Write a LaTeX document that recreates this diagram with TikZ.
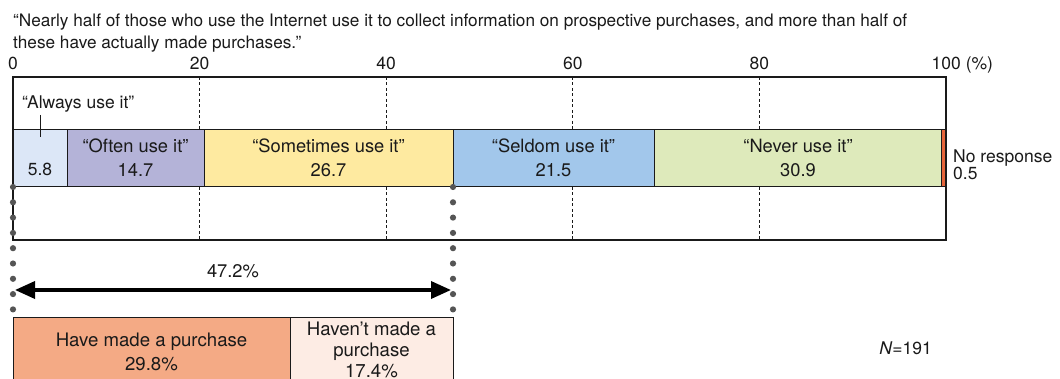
\documentclass[tikz,border=0pt]{standalone}
\usepackage{fontspec}
\setmainfont{TeX Gyre Heros}
\usetikzlibrary{arrows.meta}

\definecolor{cAlways}{HTML}{DCE7F7}
\definecolor{cOften}{HTML}{B4B3D8}
\definecolor{cSometimes}{HTML}{FEEAA0}
\definecolor{cSeldom}{HTML}{A2C7EB}
\definecolor{cNever}{HTML}{DEEABB}
\definecolor{cNoResp}{HTML}{E5643A}
\definecolor{cHave}{HTML}{F4AA85}
\definecolor{cHavent}{HTML}{FDECE4}
\definecolor{cDot}{HTML}{555555}
\definecolor{cInk}{HTML}{1A1A1A}

\begin{document}
\begin{tikzpicture}[x=1pt,y=-1pt,
  font=\fontsize{17.5}{21}\selectfont,
  txt/.style={inner sep=0pt,anchor=base,text=cInk},
  txtw/.style={inner sep=0pt,anchor=base west,text=cInk},
  big/.style={font=\fontsize{18.3}{22}\selectfont},
  bigger/.style={font=\fontsize{18.6}{22}\selectfont},
  head/.style={font=\fontsize{17.2}{21}\selectfont},
  frame/.style={draw=cInk,line width=1.2pt},
  seg/.style={draw=cInk,line width=1pt},
  grid/.style={draw=cInk,line width=0.8pt,dash pattern=on 3pt off 2.5pt},
  dotmark/.style={fill=cDot},
  span/.style={line width=3.5pt,draw=black,{Triangle[length=20pt,width=17pt]}-{Triangle[length=20pt,width=17pt]}}]

\path[use as bounding box,fill=white] (0,0) rectangle (1060,379);
\clip (0,0) rectangle (1060,379);

% heading
\node[txtw,head] (t1) at (13,27) {“Nearly half of those who use the Internet use it to collect information on prospective purchases, and more than half of};
\node[txtw,head] (t2) at (13,48.5) {these have actually made purchases.”};

% scale labels
\foreach \v in {0,20,40,60,80}
  \node[txt] (tick\v) at ({13+9.33*\v},70) {\v};
\node[txtw] (tick100) at (931.5,70) {100 (\%)};

% outer frame and grid
\foreach \v in {20,40,60,80}{
  \draw[grid] ({13+9.33*\v},77) -- ({13+9.33*\v},130);
  \draw[grid] ({13+9.33*\v},187) -- ({13+9.33*\v},240);
}

% stacked bar
\filldraw[seg,fill=cAlways]    (13,130)  rectangle (67,187);
\filldraw[seg,fill=cOften]     (67,130)  rectangle (204,187);
\filldraw[seg,fill=cSometimes] (204,130) rectangle (453,187);
\filldraw[seg,fill=cSeldom]    (453,130) rectangle (654,187);
\filldraw[seg,fill=cNever]     (654,130) rectangle (941.5,187);
\filldraw[seg,fill=cNoResp]    (941.5,130) rectangle (946,187);
\draw[frame] (13,77) rectangle (946,240);

% segment labels
\node[txtw] (always) at (22,109) {“Always use it”};
\coordinate (alTop) at (40,115);
\coordinate (alBot) at (40,137);
\draw[cInk,line width=0.9pt] (alTop) -- (alBot);
\node[txt] (vAlways) at (40,176) {5.8};

\node[txt,big] (often) at (135.5,153) {“Often use it”};
\node[txt,big] (vOften) at (135.5,177) {14.7};
\node[txt,big] (sometimes) at (328.5,153) {“Sometimes use it”};
\node[txt,big] (vSometimes) at (328.5,177) {26.7};
\node[txt,big] (seldom) at (553.5,153) {“Seldom use it”};
\node[txt,big] (vSeldom) at (553.5,177) {21.5};
\node[txt,big] (never) at (798,153) {“Never use it”};
\node[txt,big] (vNever) at (798,177) {30.9};
\node[txtw] (noresp) at (953,163) {No response};
\node[txtw] (vNoresp) at (953,180) {0.5};

% dotted guides from the bar down to the breakdown
\foreach \i in {0,...,8}{
  \fill[dotmark] (13,{187+15.3*\i}) circle (3.1pt);
  \fill[dotmark] (453,{187+15.3*\i}) circle (3.1pt);
}

% span arrow
\coordinate (aL) at (15,290);
\coordinate (aR) at (451,290);
\draw[span] (aL) -- (aR);
\node[txt,big] (share) at (233,278) {47.2\%};

% purchase breakdown
\filldraw[seg,fill=cHave]   (13,317)  rectangle (290,400);
\filldraw[seg,fill=cHavent] (290,317) rectangle (453,400);
\node[txt,bigger] (have) at (151.5,346) {Have made a purchase};
\node[txt,bigger] (vHave) at (151.5,370) {29.8\%};
\node[txt,bigger] (havent1) at (371.5,335) {Haven’t made a};
\node[txt,bigger] (havent2) at (371.5,356) {purchase};
\node[txt,bigger] (vHavent) at (371.5,377) {17.4\%};

\node[txt,anchor=base east] (n) at (932,354) {\textit{N}=191};
\end{tikzpicture}
\end{document}
